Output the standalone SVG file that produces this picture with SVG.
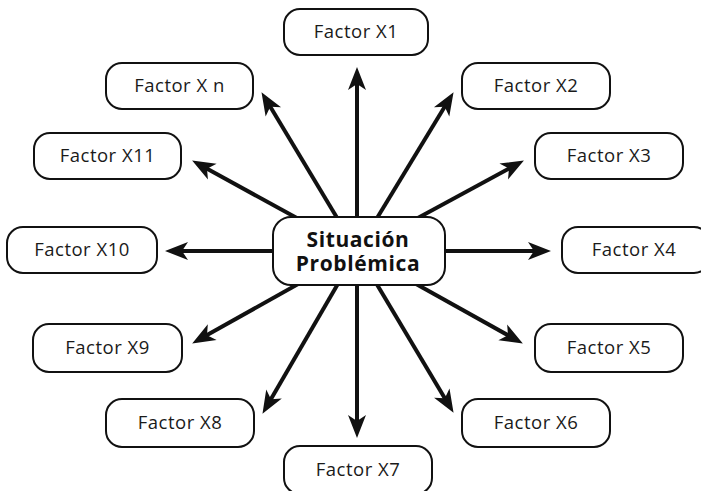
<svg xmlns="http://www.w3.org/2000/svg" width="701" height="491" viewBox="0 0 701 491">
<style>
.box{fill:#fff;stroke:#111;stroke-width:2}
.lbl{font-family:"Open Sans","Liberation Sans",sans-serif;font-size:18.5px;letter-spacing:0.5px;fill:#1a1a1a;text-anchor:middle}
.ctr{font-family:"Open Sans","Liberation Sans",sans-serif;font-size:21px;letter-spacing:0.6px;font-weight:bold;fill:#111;text-anchor:middle}
.con line{stroke:#111;stroke-width:4;marker-end:url(#ah)}
</style>
<defs>
<marker id="ah" markerUnits="userSpaceOnUse" markerWidth="24" markerHeight="20" refX="10" refY="9" orient="auto" overflow="visible">
<path d="M23,9 L0,0 L6,9 L0,18 Z" fill="#111"/>
</marker>
</defs>
<rect width="701" height="491" fill="#fff"/>
<g id="connectors" class="con">
<line x1="357" y1="251" x2="357" y2="80"/>
<line x1="357" y1="251" x2="268.2" y2="103.3"/>
<line x1="357" y1="251" x2="203.5" y2="166.8"/>
<line x1="357" y1="251" x2="178" y2="251"/>
<line x1="357" y1="251" x2="203.5" y2="337.1"/>
<line x1="357" y1="251" x2="269" y2="402.6"/>
<line x1="357" y1="251" x2="357" y2="425"/>
<line x1="357" y1="251" x2="446.9" y2="401.7"/>
<line x1="357" y1="251" x2="511.5" y2="337.2"/>
<line x1="357" y1="251" x2="538" y2="251"/>
<line x1="357" y1="251" x2="512.5" y2="166.7"/>
<line x1="357" y1="251" x2="446.8" y2="103.3"/>
</g>
<g id="center"><rect class="box" x="273" y="217" width="172" height="68" rx="18"/>
<text class="ctr" x="358" y="247">Situación</text><text class="ctr" x="358" y="271">Problémica</text></g>
<g id="x1"><rect class="box" x="284" y="9" width="144" height="46" rx="16"/><text class="lbl" x="356" y="38">Factor X1</text></g>
<g id="xn"><rect class="box" x="106" y="63" width="147" height="46" rx="16"/><text class="lbl" x="179.5" y="92">Factor X n</text></g>
<g id="x2"><rect class="box" x="462" y="63" width="148" height="46" rx="16"/><text class="lbl" x="536" y="92">Factor X2</text></g>
<g id="x11"><rect class="box" x="34" y="133" width="147" height="46" rx="16"/><text class="lbl" x="107.5" y="162">Factor X11</text></g>
<g id="x3"><rect class="box" x="535" y="133" width="148" height="46" rx="16"/><text class="lbl" x="609" y="162">Factor X3</text></g>
<g id="x10"><rect class="box" x="7" y="227" width="150" height="46" rx="16"/><text class="lbl" x="82" y="256">Factor X10</text></g>
<g id="x4"><rect class="box" x="562" y="227" width="148" height="46" rx="16"/><text class="lbl" x="634" y="256">Factor X4</text></g>
<g id="x9"><rect class="box" x="33" y="324" width="149" height="48" rx="16"/><text class="lbl" x="107.5" y="354">Factor X9</text></g>
<g id="x5"><rect class="box" x="535" y="324" width="148" height="48" rx="16"/><text class="lbl" x="609" y="354">Factor X5</text></g>
<g id="x8"><rect class="box" x="106" y="399" width="148" height="48" rx="16"/><text class="lbl" x="180" y="429">Factor X8</text></g>
<g id="x6"><rect class="box" x="462" y="399" width="148" height="48" rx="16"/><text class="lbl" x="536" y="429">Factor X6</text></g>
<g id="x7"><rect class="box" x="284" y="446" width="148" height="48" rx="16"/><text class="lbl" x="358" y="476">Factor X7</text></g>
</svg>
